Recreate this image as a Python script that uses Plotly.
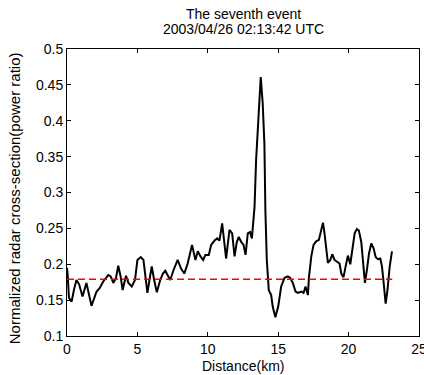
import plotly.graph_objects as go

distance_km = [0, 0.05, 0.14, 0.33, 0.5, 0.67, 0.86, 1.1, 1.38, 1.55, 1.74, 2.1, 2.33, 2.57, 2.93, 3.1,
               3.29, 3.48, 3.64, 3.81, 3.95, 4.19, 4.36, 4.6, 4.83, 5.0, 5.24, 5.43, 5.62, 5.71, 5.9,
               6.02, 6.19, 6.38, 6.62, 6.81, 6.98, 7.14, 7.33, 7.57, 7.86, 8.1, 8.33, 8.57, 8.88, 9.12,
               9.29, 9.48, 9.67, 9.83, 10.07, 10.24, 10.48, 10.67, 10.83, 11.02, 11.1, 11.3, 11.54,
               11.73, 11.9, 12.06, 12.2, 12.37, 12.54, 12.68, 12.84, 13.0, 13.13, 13.22, 13.32, 13.43,
               13.62, 13.76, 13.9, 14.02, 14.09, 14.19, 14.33, 14.5, 14.61, 14.8, 15.0, 15.21, 15.45,
               15.69, 15.85, 16.04, 16.23, 16.4, 16.64, 16.8, 16.94, 17.11, 17.18, 17.35, 17.51, 17.7,
               17.89, 18.06, 18.18, 18.29, 18.41, 18.53, 18.7, 18.84, 19.0, 19.17, 19.36, 19.48, 19.64,
               19.79, 19.95, 20.12, 20.26, 20.43, 20.59, 20.73, 20.9, 21.02, 21.16, 21.3, 21.45, 21.61,
               21.78, 21.92, 22.08, 22.25, 22.37, 22.49, 22.63, 22.75, 22.92, 23.08]

rcs_ratio = [0.195, 0.185, 0.153, 0.148, 0.165, 0.178, 0.172, 0.155, 0.174, 0.16, 0.142, 0.162, 0.167,
             0.176, 0.185, 0.183, 0.174, 0.181, 0.198, 0.183, 0.164, 0.184, 0.174, 0.169, 0.178, 0.206,
             0.21, 0.206, 0.178, 0.16, 0.183, 0.197, 0.178, 0.161, 0.178, 0.187, 0.191, 0.185, 0.178,
             0.192, 0.206, 0.194, 0.187, 0.201, 0.227, 0.206, 0.218, 0.211, 0.206, 0.213, 0.213, 0.227,
             0.233, 0.236, 0.233, 0.257, 0.24, 0.208, 0.248, 0.243, 0.211, 0.231, 0.238, 0.231, 0.227,
             0.213, 0.243, 0.245, 0.236, 0.255, 0.28, 0.345, 0.414, 0.461, 0.424, 0.368, 0.275, 0.206,
             0.164, 0.157, 0.141, 0.126, 0.141, 0.169, 0.181, 0.183, 0.181, 0.174, 0.162, 0.16, 0.162,
             0.16, 0.169, 0.157, 0.181, 0.211, 0.227, 0.232, 0.234, 0.248, 0.258, 0.243, 0.22, 0.202,
             0.206, 0.214, 0.206, 0.204, 0.201, 0.187, 0.182, 0.197, 0.212, 0.2, 0.218, 0.243, 0.249,
             0.247, 0.231, 0.206, 0.174, 0.192, 0.215, 0.229, 0.222, 0.21, 0.207, 0.208, 0.197, 0.174,
             0.145, 0.162, 0.197, 0.218]

threshold_x = [0, 23.1]
threshold_y = [0.179, 0.179]

x_ticks = [0, 5, 10, 15, 20, 25]
y_ticks = [0.1, 0.15, 0.2, 0.25, 0.3, 0.35, 0.4, 0.45, 0.5]
y_tick_labels = ["0.1", "0.15", "0.2", "0.25", "0.3", "0.35", "0.4", "0.45", "0.5"]

FONT = "Arial, Liberation Sans, sans-serif"

fig = go.Figure()
fig.add_trace(go.Scatter(x=distance_km, y=rcs_ratio, mode="lines",
                         line=dict(color="black", width=2), showlegend=False))
fig.add_trace(go.Scatter(x=threshold_x, y=threshold_y, mode="lines",
                         line=dict(color="#ff0000", width=1.5, dash="7px,4px"), showlegend=False))

axis_common = dict(showline=True, linecolor="black", linewidth=1, mirror="allticks",
                   ticks="inside", ticklen=4, tickcolor="black", showgrid=False, zeroline=False,
                   ticklabeloverflow="allow", automargin=False,
                   tickfont=dict(family=FONT, size=14, color="black"))

fig.update_xaxes(range=[0, 25], tickvals=x_ticks, ticktext=[str(v) for v in x_ticks], **axis_common)
fig.update_yaxes(range=[0.1, 0.5], tickvals=y_ticks, ticktext=y_tick_labels, **axis_common)

fig.update_layout(
    width=424, height=375,
    margin=dict(l=67, r=5, t=49, b=39, autoexpand=False),
    paper_bgcolor="white", plot_bgcolor="white",
    font=dict(family=FONT, size=14, color="black"),
    annotations=[
        dict(text="The seventh event", xref="paper", yref="paper", x=0.5, y=1 + 35 / 287,
             showarrow=False, xanchor="center", yanchor="middle", font=dict(size=14)),
        dict(text="2003/04/26 02:13:42 UTC", xref="paper", yref="paper", x=0.5, y=1 + 20 / 287,
             showarrow=False, xanchor="center", yanchor="middle", font=dict(size=14)),
        dict(text="Distance(km)", xref="paper", yref="paper", x=0.5, y=-29.5 / 287,
             showarrow=False, xanchor="center", yanchor="middle", font=dict(size=14)),
        dict(text="Normalized radar cross-section(power ratio)", xref="paper", yref="paper",
             x=-53 / 352, y=0.48, textangle=-90, showarrow=False,
             xanchor="center", yanchor="middle", font=dict(size=15)),
    ],
)

fig.write_html("out.html")
